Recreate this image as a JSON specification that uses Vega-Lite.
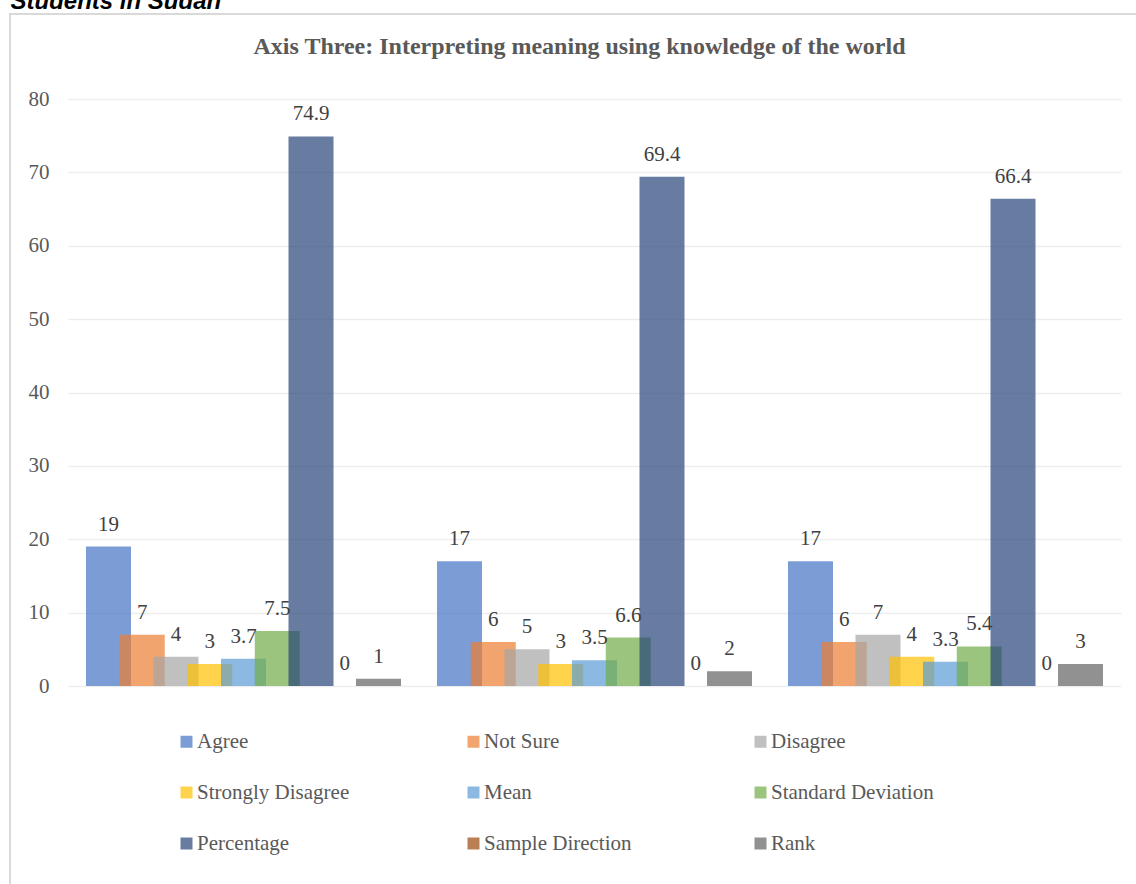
{
  "$schema": "https://vega.github.io/schema/vega-lite/v6.json",
  "width": 1126,
  "height": 870,
  "autosize": {"type": "none"},
  "padding": {"left": 10, "top": 14, "right": 0, "bottom": 0},
  "background": "white",
  "config": {
    "view": {"stroke": "#D9D9D9", "strokeWidth": 2, "strokeDash": [1126, 1996, 870]},
    "font": "Liberation Serif"
  },
  "data": {
    "values": [
      {"group": "1", "series": "Agree", "value": 19},
      {"group": "1", "series": "Not Sure", "value": 7},
      {"group": "1", "series": "Disagree", "value": 4},
      {"group": "1", "series": "Strongly Disagree", "value": 3},
      {"group": "1", "series": "Mean", "value": 3.7},
      {"group": "1", "series": "Standard Deviation", "value": 7.5},
      {"group": "1", "series": "Percentage", "value": 74.9},
      {"group": "1", "series": "Sample Direction", "value": 0},
      {"group": "1", "series": "Rank", "value": 1},
      {"group": "2", "series": "Agree", "value": 17},
      {"group": "2", "series": "Not Sure", "value": 6},
      {"group": "2", "series": "Disagree", "value": 5},
      {"group": "2", "series": "Strongly Disagree", "value": 3},
      {"group": "2", "series": "Mean", "value": 3.5},
      {"group": "2", "series": "Standard Deviation", "value": 6.6},
      {"group": "2", "series": "Percentage", "value": 69.4},
      {"group": "2", "series": "Sample Direction", "value": 0},
      {"group": "2", "series": "Rank", "value": 2},
      {"group": "3", "series": "Agree", "value": 17},
      {"group": "3", "series": "Not Sure", "value": 6},
      {"group": "3", "series": "Disagree", "value": 7},
      {"group": "3", "series": "Strongly Disagree", "value": 4},
      {"group": "3", "series": "Mean", "value": 3.3},
      {"group": "3", "series": "Standard Deviation", "value": 5.4},
      {"group": "3", "series": "Percentage", "value": 66.4},
      {"group": "3", "series": "Sample Direction", "value": 0},
      {"group": "3", "series": "Rank", "value": 3}
    ]
  },
  "encoding": {
    "x": {
      "field": "group",
      "type": "nominal",
      "sort": ["1", "2", "3"],
      "scale": {"range": [58, 1111], "paddingInner": 0.1346, "paddingOuter": 0.0673},
      "axis": {
        "orient": "top",
        "labels": false,
        "ticks": false,
        "domain": false,
        "grid": false,
        "title": "Axis Three: Interpreting meaning using knowledge of the world",
        "titleFont": "Liberation Serif",
        "titleFontSize": 24,
        "titleFontWeight": "bold",
        "titleColor": "#595959",
        "titleX": 569,
        "titleY": 39,
        "titleAlign": "center",
        "titleBaseline": "alphabetic",
        "titleAngle": 0
      }
    },
    "xOffset": {
      "field": "series",
      "type": "nominal",
      "sort": ["Agree", "Not Sure", "Disagree", "Strongly Disagree", "Mean", "Standard Deviation", "Percentage", "Sample Direction", "Rank"],
      "scale": {"paddingInner": 0, "paddingOuter": 0}
    },
    "y": {
      "field": "value",
      "type": "quantitative",
      "scale": {"domain": [0, 80], "range": [672, 85], "nice": false, "zero": true},
      "axis": {
        "orient": "left",
        "offset": -40,
        "values": [0, 10, 20, 30, 40, 50, 60, 70, 80],
        "domain": false,
        "ticks": false,
        "grid": true,
        "gridColor": "#EDEDED",
        "gridWidth": 1.5,
        "labelFont": "Liberation Serif",
        "labelFontSize": 21,
        "labelColor": "#595959",
        "labelPadding": 1,
        "title": "Students in Sudan",
        "titleFont": "Liberation Sans",
        "titleFontSize": 24,
        "titleFontWeight": "bold",
        "titleFontStyle": "italic",
        "titleColor": "#000000",
        "titleAngle": 0,
        "titleAlign": "left",
        "titleBaseline": "alphabetic",
        "titleX": -40,
        "titleY": -6
      }
    }
  },
  "layer": [
    {
      "mark": {"type": "bar", "width": 45, "fillOpacity": 0.7, "strokeWidth": 0},
      "encoding": {
        "color": {
          "field": "series",
          "type": "nominal",
          "sort": ["Agree", "Not Sure", "Disagree", "Strongly Disagree", "Mean", "Standard Deviation", "Percentage", "Sample Direction", "Rank"],
          "scale": {
            "domain": ["Agree", "Not Sure", "Disagree", "Strongly Disagree", "Mean", "Standard Deviation", "Percentage", "Sample Direction", "Rank"],
            "range": ["#4472C4", "#ED7D31", "#A5A5A5", "#FFC000", "#5B9BD5", "#70AD47", "#264478", "#9E480E", "#636363"]
          },
          "legend": {
            "orient": "none",
            "legendX": 166,
            "legendY": 717,
            "padding": 0,
            "direction": "horizontal",
            "columns": 3,
            "gridAlign": "all",
            "columnPadding": 103,
            "rowPadding": 29,
            "title": null,
            "symbolType": "square",
            "symbolSize": 144,
            "symbolStrokeWidth": 0,
            "symbolOpacity": 0.7,
            "labelFont": "Liberation Serif",
            "labelFontSize": 21,
            "labelColor": "#595959",
            "labelOffset": 0,
            "labelLimit": 400
          }
        }
      }
    },
    {
      "mark": {"type": "text", "dy": -16, "baseline": "alphabetic", "align": "center", "fontSize": 21, "color": "#404040", "font": "Liberation Serif"},
      "encoding": {
        "text": {"field": "value", "type": "nominal"}
      }
    }
  ]
}
